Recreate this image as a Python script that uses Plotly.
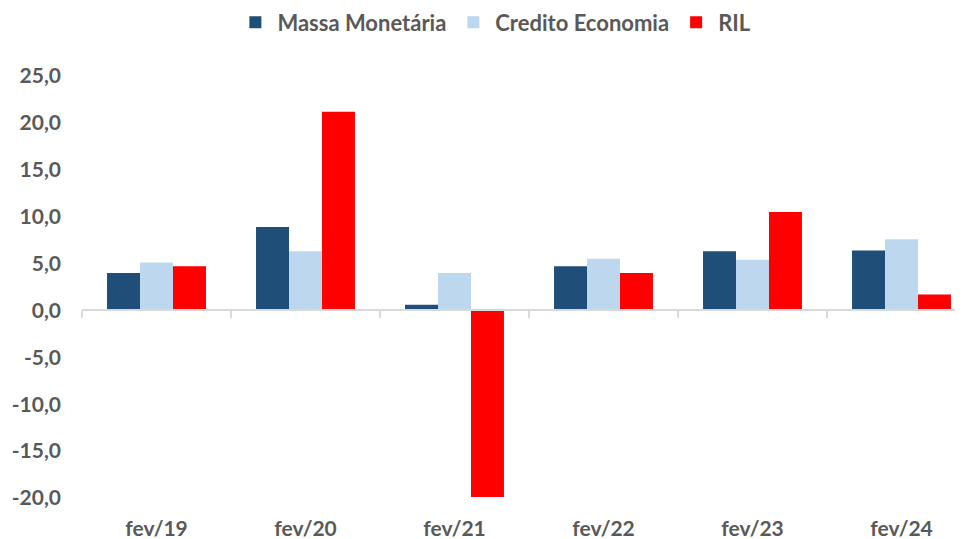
import plotly.graph_objects as go

categories = ["fev/19", "fev/20", "fev/21", "fev/22", "fev/23", "fev/24"]
massa_monetaria = [4.0, 8.9, 0.6, 4.7, 6.3, 6.4]
credito_economia = [5.1, 6.3, 4.0, 5.5, 5.4, 7.6]
ril = [4.7, 21.2, -19.9, 4.0, 10.5, 1.7]

y_ticks = [-20, -15, -10, -5, 0, 5, 10, 15, 20, 25]
y_tick_labels = ["-20,0", "-15,0", "-10,0", "-5,0", "0,0", "5,0", "10,0", "15,0", "20,0", "25,0"]

GRAY = "#595959"
FONT = "Lato"

fig = go.Figure()
fig.add_trace(go.Bar(name="Massa Monetária", x=categories, y=massa_monetaria,
                     marker=dict(color="#1F4E79", line=dict(width=0))))
fig.add_trace(go.Bar(name="Credito Economia", x=categories, y=credito_economia,
                     marker=dict(color="#BDD7EE", line=dict(width=0))))
fig.add_trace(go.Bar(name="RIL", x=categories, y=ril,
                     marker=dict(color="#FF0000", line=dict(width=0))))
# helper trace so the zero-line category axis (x2) is drawn
fig.add_trace(go.Scatter(x=categories, y=[None] * len(categories), xaxis="x2",
                         showlegend=False, hoverinfo="skip", mode="markers"))

ymin, ymax = -20, 25
fig.update_layout(
    width=955, height=531,
    paper_bgcolor="white", plot_bgcolor="white",
    margin=dict(l=74, r=0, t=68, b=41),
    separators=",.",
    barmode="group", bargap=0.336, bargroupgap=0,
    font=dict(family=FONT, color=GRAY),
    showlegend=True,
    legend=dict(orientation="h", xref="container", yref="container",
                x=0.236, xanchor="left", y=0.973, yanchor="middle",
                itemwidth=34,
                font=dict(family=FONT, size=22, color=GRAY, weight="bold"),
                bgcolor="rgba(0,0,0,0)", itemclick=False),
    xaxis=dict(type="category", range=[-0.5, -0.5 + 881 / 149],
               showline=False, showgrid=False, zeroline=False,
               ticks="outside", ticklen=12, tickcolor="rgba(0,0,0,0)",
               tickfont=dict(family=FONT, size=21, color=GRAY, weight="bold"),
               automargin=False),
    xaxis2=dict(type="category", overlaying="x", matches="x", anchor="free",
                position=(0 - ymin) / (ymax - ymin),
                showline=True, linecolor="#D9D9D9", linewidth=1.5,
                ticks="outside", tickson="boundaries", ticklen=7,
                tickcolor="#D9D9D9", tickwidth=1.5,
                showticklabels=False, showgrid=False, zeroline=False,
                automargin=False),
    yaxis=dict(range=[ymin, ymax], tickvals=y_ticks, ticktext=y_tick_labels,
               showgrid=False, zeroline=False, showline=False,
               ticks="", ticklabelstandoff=20,
               tickfont=dict(family=FONT, size=21, color=GRAY, weight="bold"),
               automargin=False),
)

fig.write_html("out.html")
